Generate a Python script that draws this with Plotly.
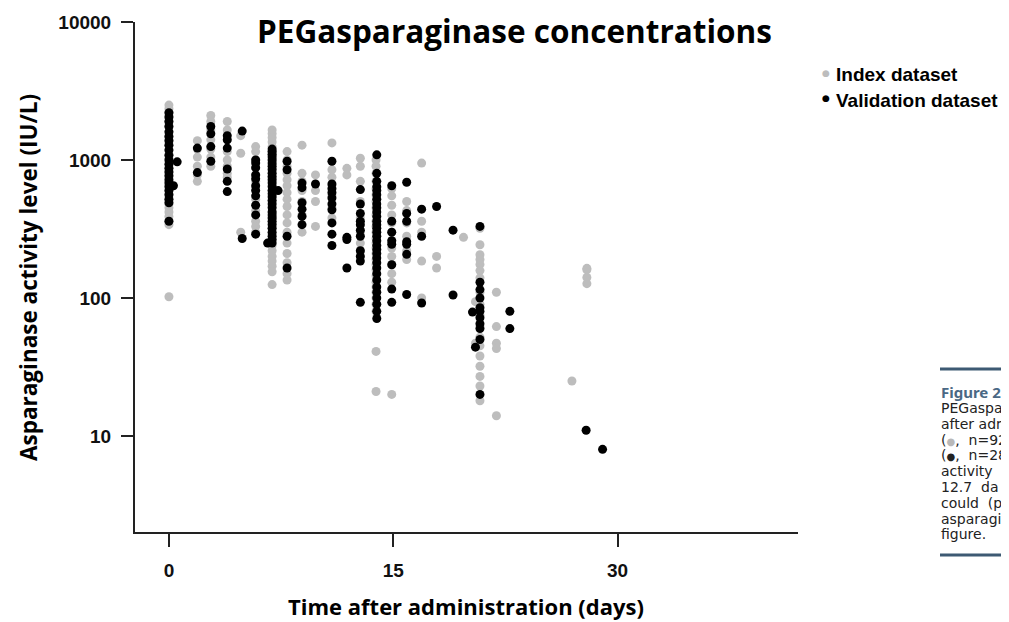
import plotly.graph_objects as go

# ---------------- data ----------------
# Index dataset (grey): days after administration, activity (IU/L)
index_days = (
    [0.0] * 29
    + [1.9] * 6
    + [2.8] * 7
    + [3.9] * 8
    + [4.8] * 3
    + [5.8] * 12
    + [6.9] * 31
    + [7.9] * 17
    + [8.9] * 7
    + [9.8] * 4
    + [10.9] * 7
    + [11.9] * 2
    + [12.8] * 8
    + [13.85] * 28
    + [14.9] * 13
    + [15.9] * 6
    + [16.9] * 5
    + [17.9] * 2
    + [19.7]
    + [20.5] * 2
    + [20.8] * 18
    + [21.9] * 5
    + [26.95]
    + [27.95] * 4
)
index_vals = (
    [2500, 2350, 2200, 2050, 1900, 1750, 1600, 1480, 1380, 1280, 1180, 1100, 1020, 950, 880,
     820, 760, 700, 650, 600, 560, 520, 480, 450, 420, 390, 360, 340, 102]
    + [1380, 1200, 1050, 900, 780, 700]
    + [2100, 1900, 1650, 1400, 1200, 1050, 900]
    + [1900, 1650, 1400, 1150, 1000, 900, 800, 750]
    + [1500, 1120, 300]
    + [1250, 1150, 1000, 880, 780, 700, 620, 520, 430, 360, 330, 300]
    + [1650, 1550, 1450, 1350, 1250, 1150, 1080, 1000, 930, 870, 810, 750, 700, 650, 600, 550,
       500, 460, 420, 380, 350, 320, 290, 260, 240, 220, 200, 185, 170, 155, 125]
    + [1150, 1000, 900, 800, 720, 650, 580, 520, 460, 400, 350, 300, 250, 210, 180, 150, 135]
    + [1280, 800, 700, 600, 500, 400, 300]
    + [780, 600, 500, 330]
    + [1330, 850, 750, 650, 550, 450, 380]
    + [870, 780]
    + [1030, 900, 700, 500, 380, 300, 250, 220]
    + [1000, 900, 800, 700, 620, 560, 500, 450, 400, 360, 330, 300, 270, 250, 230, 210, 190,
       175, 160, 145, 130, 120, 110, 100, 90, 80, 41, 21]
    + [620, 550, 470, 400, 350, 300, 260, 230, 200, 175, 150, 130, 20]
    + [500, 430, 350, 280, 220, 190]
    + [950, 360, 300, 185, 100]
    + [200, 165]
    + [275]
    + [94, 47]
    + [320, 243, 206, 190, 175, 158, 140, 110, 90, 75, 62, 52, 45, 38, 32, 27, 23, 18]
    + [110, 62, 47, 43, 14]
    + [25]
    + [164, 160, 141, 127]
)

# Validation dataset (black)
valid_days = (
    [0.0] * 23 + [0.55, 0.3]
    + [1.9] * 2
    + [2.8] * 4
    + [3.9] * 6
    + [4.9] * 2
    + [5.8] * 11
    + [6.9] * 29 + [7.3, 6.6]
    + [7.9] * 4
    + [8.9] * 6
    + [9.8]
    + [10.9] * 10
    + [11.9] * 3
    + [12.8] * 11
    + [13.9] * 31
    + [14.9] * 8
    + [15.9] * 7
    + [16.9] * 3
    + [17.9]
    + [19.0] * 2
    + [20.3, 20.5]
    + [20.8] * 11
    + [22.8] * 2
    + [27.9, 29.0]
)
valid_vals = (
    [2200, 2050, 1900, 1750, 1600, 1480, 1380, 1280, 1180, 1080, 1000, 930, 870, 820, 770, 720,
     680, 640, 600, 560, 520, 490, 360, 970, 650]
    + [1220, 810]
    + [1750, 1550, 1250, 980]
    + [1500, 1400, 1220, 860, 700, 590]
    + [1620, 270]
    + [1000, 950, 880, 780, 730, 650, 600, 550, 470, 400, 290]
    + [1200, 1150, 1100, 1050, 1000, 950, 900, 850, 800, 760, 720, 680, 640, 600, 570, 540, 510,
       480, 450, 420, 400, 380, 360, 340, 320, 300, 280, 265, 250, 600, 250]
    + [980, 850, 280, 165]
    + [680, 630, 490, 440, 390, 340]
    + [670]
    + [980, 670, 620, 580, 530, 480, 435, 350, 290, 240]
    + [275, 265, 165]
    + [610, 480, 410, 360, 340, 310, 280, 220, 200, 185, 93]
    + [1090, 800, 700, 640, 600, 560, 520, 480, 450, 420, 390, 360, 340, 320, 300, 280, 260, 240,
       225, 210, 195, 180, 165, 150, 135, 120, 110, 100, 90, 80, 71]
    + [650, 360, 300, 260, 245, 174, 116, 93]
    + [690, 410, 360, 256, 245, 207, 106]
    + [440, 280, 92]
    + [460]
    + [310, 105]
    + [79, 44]
    + [330, 130, 115, 100, 85, 80, 72, 65, 60, 50, 20]
    + [80, 60]
    + [11, 8]
)

x_ticks = [0, 15, 30]
y_ticks = [10, 100, 1000, 10000]
y_tick_text = ["10", "100", "1000", "10000"]

series_names = ["Index dataset", "Validation dataset"]
title_text = "PEGasparaginase concentrations"
x_title = "Time after administration (days)"
y_title = "Asparaginase activity level (IU/L)"

caption_head = "Figure 2."
caption_lines = [
    "PEGaspa",
    "after adm",
    "(<span style='color:#b8b8b8;font-size:10px'>●</span>,  n=92",
    "(<span style='font-size:10px'>●</span>,  n=28",
    "activity",
    "12.7  da",
    "could  (p",
    "asparagi",
    "figure.",
]

# ---------------- layout helpers ----------------
# the page has an 8px body margin, so the figure is drawn 8px right/down
OFF = 8
W, H = 1009 - OFF, 622 - OFF
L, R, T, B = 135, 798, 22, 532          # plot area in page pixels


def px(x):
    return (x - L) / (R - L)


def py(y):
    return (B - y) / (B - T)


GREY = "#bdbdbd"
BLACK = "#000000"
TICKFONT = dict(family="Liberation Sans, Arial", size=19, color="#111", weight="bold")
HEADFONT = "Open Sans, sans-serif"

fig = go.Figure()
fig.add_trace(go.Scatter(x=index_days, y=index_vals, mode="markers", name=series_names[0],
                         marker=dict(color=GREY, size=9, line=dict(width=0)), showlegend=False))
fig.add_trace(go.Scatter(x=valid_days, y=valid_vals, mode="markers", name=series_names[1],
                         marker=dict(color=BLACK, size=9, line=dict(width=0)), showlegend=False))

fig.update_layout(
    width=W, height=H,
    margin=dict(l=L - OFF, r=W - (R - OFF), t=T - OFF, b=H - (B - OFF), pad=0, autoexpand=False),
    paper_bgcolor="white", plot_bgcolor="white",
    font=dict(family="Liberation Sans, Arial", color="#111"),
    xaxis=dict(range=[-2.27, 42.07], tickvals=x_ticks, ticks="outside", ticklen=13,
               tickwidth=2, tickcolor="#222", showline=True, linewidth=2, linecolor="#222",
               showgrid=False, zeroline=False, tickfont=TICKFONT, ticklabelstandoff=7,
               automargin=False),
    yaxis=dict(type="log", range=[0.304, 4.0], tickvals=y_ticks, ticktext=y_tick_text,
               ticks="outside", ticklen=12, tickwidth=2, tickcolor="#222", showline=True,
               linewidth=2, linecolor="#222", showgrid=False, zeroline=False, tickfont=TICKFONT,
               ticklabelstandoff=6, automargin=False),
)

ann = []
ann.append(dict(text="<b>%s</b>" % title_text, x=px(514), y=py(30), xref="paper", yref="paper",
                xanchor="center", yanchor="middle", showarrow=False,
                font=dict(family=HEADFONT, size=31.5, color="#000")))
ann.append(dict(text="<b>%s</b>" % x_title, x=px(466), y=py(606), xref="paper", yref="paper",
                xanchor="center", yanchor="middle", showarrow=False,
                font=dict(family=HEADFONT, size=22, color="#000")))
ann.append(dict(text="<b>%s</b>" % y_title, x=px(28), y=py(278), xref="paper", yref="paper",
                xanchor="center", yanchor="middle", showarrow=False, textangle=-90,
                font=dict(family=HEADFONT, size=22.5, color="#000")))
# legend
for i, (name, col) in enumerate(zip(series_names, [GREY, BLACK])):
    yy = 75 + 25 * i
    ann.append(dict(text="●", x=px(826), y=py(yy - 2), xref="paper", yref="paper",
                    xanchor="center", yanchor="middle", showarrow=False,
                    font=dict(family="DejaVu Sans", size=9, color=col)))
    ann.append(dict(text="<b>%s</b>" % name, x=px(834), y=py(yy), xref="paper", yref="paper",
                    xanchor="left", yanchor="middle", showarrow=False,
                    font=dict(family="Liberation Sans, Arial", size=19, color="#000")))
# caption (cut off at the right edge of the picture)
CAPCOL = "#4a6884"
ann.append(dict(text="<b>%s</b>" % caption_head, x=px(939), y=py(392), xref="paper", yref="paper",
                xanchor="left", yanchor="middle", showarrow=False,
                font=dict(family="Noto Sans", size=15, color=CAPCOL)))
for i, line in enumerate(caption_lines):
    ann.append(dict(text=line, x=px(939), y=py(408 + 15.8 * i), xref="paper", yref="paper",
                    xanchor="left", yanchor="middle", showarrow=False,
                    font=dict(family="DejaVu Sans", size=14, color="#222")))
fig.update_layout(annotations=ann)

shapes = [
    dict(type="line", xref="paper", yref="paper", x0=px(940), x1=px(1012), y0=py(369), y1=py(369),
         line=dict(color="#3d5a73", width=3)),
    dict(type="line", xref="paper", yref="paper", x0=px(940), x1=px(1012), y0=py(555), y1=py(555),
         line=dict(color="#3d5a73", width=3)),
]
fig.update_layout(shapes=shapes)

fig.write_html("out.html")
